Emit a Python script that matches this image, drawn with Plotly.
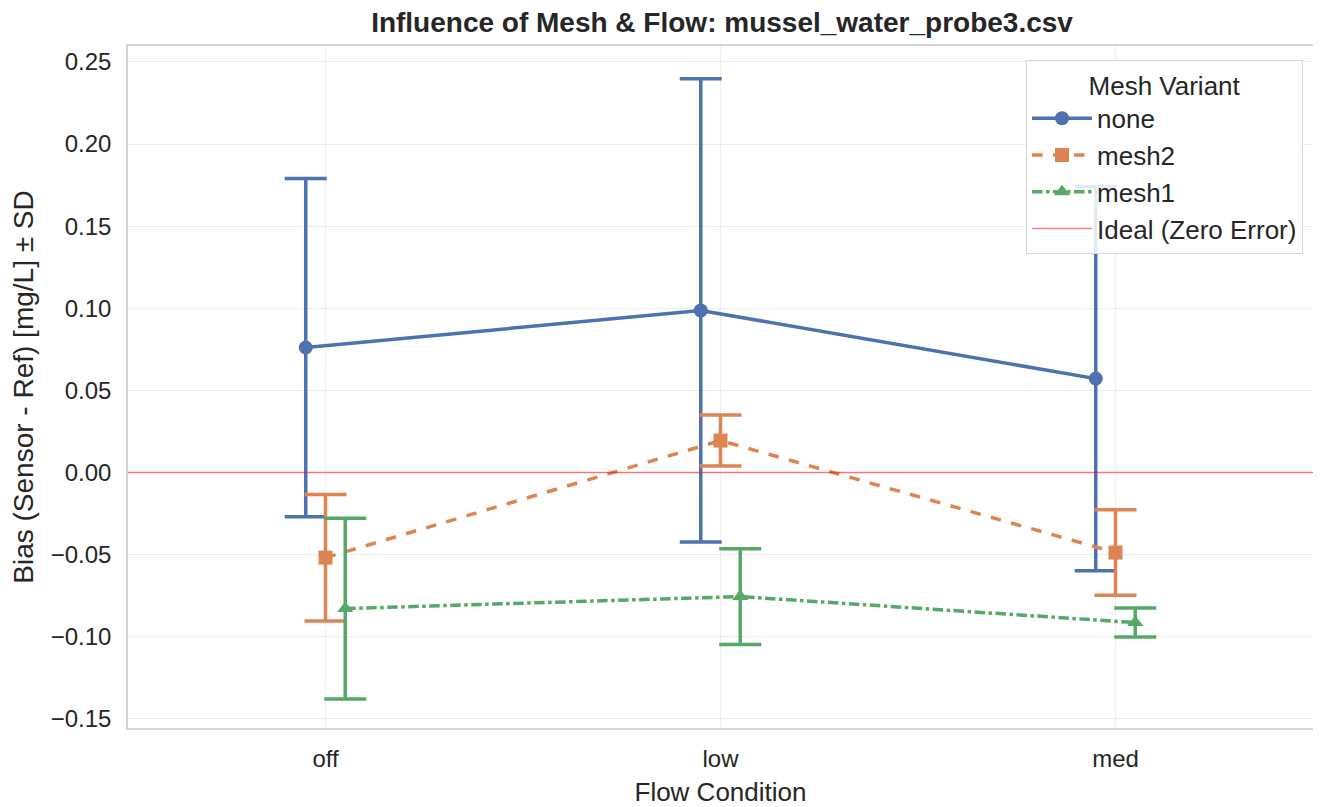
import plotly.graph_objects as go

categories = ["off", "low", "med"]
series_names = ["none", "mesh2", "mesh1"]
means = {
    "none": [0.0761, 0.0987, 0.0572],
    "mesh2": [-0.0518, 0.0195, -0.0487],
    "mesh1": [-0.0828, -0.0755, -0.0913],
}
sds = {
    "none": [0.1030, 0.1410, 0.1170],
    "mesh2": [0.0385, 0.0155, 0.0260],
    "mesh1": [0.0550, 0.0292, 0.0088],
}
colors = {"none": "#4C72B0", "mesh2": "#DD8452", "mesh1": "#55A868"}
symbols = {"none": "circle", "mesh2": "square", "mesh1": "triangle-up"}
dashes = {"none": "solid", "mesh2": "dash", "mesh1": "dashdot"}
y_ticks = [-0.15, -0.10, -0.05, 0.00, 0.05, 0.10, 0.15, 0.20, 0.25]

fig = go.Figure()
n = len(series_names)
for i, name in enumerate(series_names):
    off = (i - (n - 1) / 2) * 0.05
    xs = [k + off for k in range(len(categories))]
    fig.add_trace(go.Scatter(
        x=xs, y=means[name], name=name, mode="lines+markers", legendgroup=name,
        line=dict(color=colors[name], width=3.5, dash=dashes[name]),
        marker=dict(color=colors[name], symbol=symbols[name], size=14),
        error_y=dict(type="data", array=sds[name], visible=True,
                     color=colors[name], thickness=3.5, width=21),
    ))

fig.add_hline(y=0, line=dict(color="rgba(255,0,0,0.5)", width=1.5))
fig.add_trace(go.Scatter(x=[None], y=[None], mode="lines", name="Ideal (Zero Error)",
                         legendgroup="ideal",
                         line=dict(color="rgba(255,0,0,0.5)", width=1.5)))

W, H = 1313, 799
fig.update_layout(
    width=W, height=H,
    margin=dict(l=120, r=8, t=38, b=79, autoexpand=False),
    paper_bgcolor="white", plot_bgcolor="white",
    font=dict(family="Liberation Sans, Arial, sans-serif", size=24, color="#262626"),
    title=dict(text="<b>Influence of Mesh & Flow: mussel_water_probe3.csv</b>",
               x=714 / W, xanchor="center", y=1 - 14 / H, yanchor="middle",
               font=dict(size=28, color="#262626")),
    legend=dict(
        title=dict(text="Mesh Variant", side="top center", font=dict(size=26)),
        x=0.9916, xanchor="right", y=0.9795, yanchor="top",
        bgcolor="rgba(255,255,255,0.85)", bordercolor="#d6d6d6", borderwidth=1,
        font=dict(size=26), tracegroupgap=0, itemwidth=60,
    ),
    xaxis=dict(
        range=[-0.5, 2.5], tickvals=list(range(len(categories))), ticktext=categories,
        showgrid=True, gridcolor="#ededed", gridwidth=1, zeroline=False,
        showline=True, mirror=True, linecolor="#d4d4d4", linewidth=1.5,
        title=dict(text="Flow Condition", font=dict(size=26), standoff=12),
        tickfont=dict(size=24), ticks="", automargin=False, ticklabelstandoff=8,
    ),
    yaxis=dict(
        range=[-0.1555, 0.2597], tickvals=y_ticks, tickformat=".2f",
        showgrid=True, gridcolor="#ededed", gridwidth=1, zeroline=False,
        showline=True, mirror=True, linecolor="#d4d4d4", linewidth=1.5,
        title=dict(text="Bias (Sensor - Ref) [mg/L] ± SD", font=dict(size=28), standoff=14),
        tickfont=dict(size=24), ticks="", automargin=False, ticklabelstandoff=10,
    ),
)

fig.write_html("out.html")
